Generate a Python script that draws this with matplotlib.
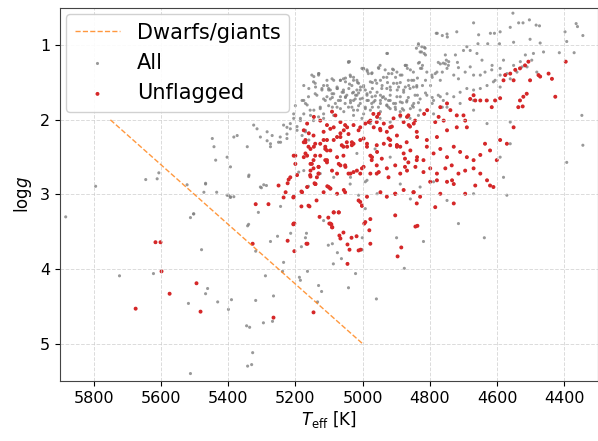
import numpy as np
import matplotlib.pyplot as plt

# Dwarfs/giants dividing line
line_teff = [5750, 5000]
line_logg = [2.0, 5.0]

# stars not in the unflagged sample (grey only)
grey_teff = [
    5723, 5622, 5479, 5467, 5461, 5518, 5431, 5390, 5399, 5342, 5318, 5345, 5336, 5318, 5327,
    5342, 5330, 5512, 5289, 5295, 5265, 5268, 5274, 5253, 5235, 5214, 5188, 5238,
    5167, 5170, 5182, 5001, 5102, 5090, 5075, 5087, 5063, 5021, 5042, 5164, 5185, 5131, 5122,
    5134, 4959, 4899, 4876, 4819, 4715, 4638, 5001,
    5467, 5434, 5399, 5393, 5503, 5512, 5339, 5301, 5286, 5310, 5339, 5244, 5161,
    5883, 5794, 5645, 5611, 5606, 5522, 5472, 5403, 5393, 5502, 5383, 5304, 5294,
    5447, 5442, 5383, 5373, 5403, 5437, 5343, 5324, 5314, 5304, 5284, 5284, 5274, 5244, 5225,
    5215, 5393, 5338, 5467,
    5131, 5146, 5121, 5106, 5141, 5170, 5175, 5185, 5205, 5225, 5215, 5235, 5195, 5170, 5180,
    5160, 5225, 5245, 5269, 5274, 5250,
    5090, 5072, 5051, 5036, 5021, 5000, 4983, 4962, 4941, 4923, 4902, 4882, 4864, 4837, 4813,
    4793, 4775, 4760, 5090, 5066, 5042, 5015, 4992, 4971, 4947, 4923, 4902, 4882, 4852, 4834,
    4793, 4763,
    4926, 5042, 4840, 4834, 4816, 4825, 4813, 4778, 4763, 4748, 4831, 4822, 4828, 4775, 4760,
    4751, 4745, 4763, 4784, 4718, 4715, 4998, 4986, 4953, 4911, 4873, 4867, 4849,
    5066, 5051, 5027, 5015, 5039, 5006, 4983, 4971, 4947, 4938, 4926, 4923, 4902, 4888, 4864,
    4837, 4813, 4793, 4798, 4822, 4849, 4873, 4897, 4917, 4971, 4992, 5012, 5030, 5057, 5075,
    5096, 5105,
    4553, 4536, 4523, 4504, 4484, 4670, 4781, 4749, 4720, 4655, 4620, 4608, 4591, 4561, 4502,
    4474, 4365, 4361, 4345, 4398, 4393, 4472, 4415, 4371, 4551, 4593, 4628, 4657,
    4834, 4824, 4814, 4829, 4817, 4928,
    4754, 4744, 4754, 4769, 4724, 4700, 4690, 4680,
    4660, 4645, 4615, 4591, 4581, 4551, 4531, 4516, 4497, 4492, 4462, 5039,
    5002, 4987, 4972, 4952, 4933, 4913, 4898, 4888, 4873, 4858,
    4834, 4824, 4809, 4794, 4779, 4769, 4749, 4729, 4715, 4695, 4680, 4670, 4650, 4636, 4616,
    4606, 4591, 4571, 4561, 4541, 4526, 4511, 4482,
    5145, 5130, 5106, 5091, 5066, 5051, 5036, 5027, 5012, 4997, 4977, 4962, 4942, 4928, 4908,
    4893, 4878, 4863, 4848, 4839,
    5175, 5160, 5140, 5121, 5101, 5086, 5076, 5061, 5041, 5027, 5017, 5007, 4987, 4972, 4957,
    4947, 4932, 4918, 4898,
    5180, 5165, 5145, 5126, 5111, 5096, 5081, 5066, 5051, 5036, 5022, 5007, 4987, 4967, 4947,
    4928, 4908, 4888, 4868, 4848, 4829, 4809, 4789, 4769, 4749, 4729, 4710, 4690, 4670, 4650,
    4630, 4611, 4591,
    5155, 5131, 5116, 5086, 5056, 5027, 4997, 4977, 4947, 4918, 4888, 4858, 4829, 4789, 4749,
    4710, 4670, 4630,
    4670, 4630, 4561, 4591, 4581, 4571, 4561, 4348, 4345, 4393, 4829, 4789, 4749, 4670, 4888,
    4957, 4987, 5036, 5126, 4858,
    # dense band, second pass
    5042, 5151, 5131, 5086, 5057, 5037, 5017, 4997, 4973, 4948, 4928, 4908, 4883, 4869, 4854,
    5141, 5116, 5101, 5076, 5057, 5032, 5017, 4997, 4977, 4958, 4943, 4918, 4898, 4878, 4859,
    4839, 5175, 5200, 5161, 5136, 5116, 5091, 5066, 5047, 5027, 5007, 4987, 4963, 4938, 4918,
    4888, 4869, 4844, 5205, 5185, 5156, 5126, 5101, 5076, 5052, 5032, 5012, 4992, 4973, 4953,
    4928, 4903, 4878, 4849, 5195, 5170, 5146, 5116, 5027, 5002, 4977, 4948, 4918, 4888, 4859,
    4834,
    5190, 5165, 5037, 4992, 5086, 5017, 5175, 4963, 4888, 4918, 5012, 4992, 5116,
]
grey_logg = [
    4.09, 4.06, 3.74, 4.33, 4.26, 4.46, 4.44, 4.41, 4.54, 3.42, 3.76, 4.76, 4.78, 4.42, 5.12,
    5.30, 5.28, 5.40, 4.09, 4.72, 4.36, 4.70, 3.63, 3.56, 3.91, 3.52, 4.11, 4.03,
    3.52, 3.58, 3.70, 3.58, 3.68, 3.66, 3.78, 3.93, 3.86, 4.06, 4.25, 4.03, 4.15, 4.22, 4.30,
    4.44, 4.40, 3.58, 3.99, 3.63, 3.39, 3.58, 3.74,
    2.85, 2.97, 3.01, 3.04, 3.26, 3.31, 2.76, 2.91, 2.88, 3.24, 3.40, 3.16, 2.89,
    3.30, 2.89, 2.80, 2.79, 2.71, 2.87, 2.97, 3.01, 3.03, 3.26, 3.03, 2.90, 2.87,
    2.25, 2.36, 2.23, 2.21, 2.50, 2.54, 2.36, 2.07, 2.12, 2.23, 2.16, 2.28, 2.36, 2.30, 2.19,
    2.12, 2.63, 2.74, 2.86,
    1.40, 1.49, 1.60, 1.69, 1.65, 1.78, 1.92, 2.01, 1.98, 2.10, 2.05, 2.07, 2.14, 2.14, 2.21,
    2.27, 2.25, 2.23, 2.21, 2.32, 2.30,
    1.70, 1.74, 1.70, 1.77, 1.67, 1.71, 1.74, 1.68, 1.70, 1.74, 1.78, 1.77, 1.70, 1.67, 1.64,
    1.70, 1.67, 1.74, 1.83, 1.85, 1.83, 1.87, 1.85, 1.83, 1.78, 1.83, 1.86, 1.85, 1.81, 1.77,
    1.78, 1.83,
    1.11, 1.23, 1.04, 1.00, 1.03, 1.09, 1.13, 0.84, 0.87, 0.89, 1.23, 1.27, 1.31, 1.23, 1.24,
    1.20, 1.27, 1.36, 1.38, 1.23, 1.30, 1.32, 1.35, 1.30, 1.32, 1.27, 1.31, 1.36,
    1.47, 1.44, 1.43, 1.50, 1.52, 1.56, 1.38, 1.50, 1.47, 1.43, 1.50, 1.38, 1.43, 1.50, 1.47,
    1.44, 1.47, 1.43, 1.54, 1.54, 1.56, 1.56, 1.60, 1.60, 1.58, 1.60, 1.64, 1.64, 1.63, 1.58,
    1.60, 1.54,
    0.57, 0.70, 0.70, 0.66, 0.73, 0.70, 0.84, 0.85, 0.82, 0.86, 0.84, 0.84, 0.82, 0.76, 0.92,
    0.74, 0.71, 0.75, 0.87, 0.82, 0.95, 0.97, 1.10, 1.10, 0.96, 0.98, 0.98, 0.98,
    0.98, 1.02, 1.04, 1.09, 1.11, 1.11,
    1.13, 1.22, 1.25, 1.25, 1.13, 1.07, 1.02, 1.07,
    1.11, 1.20, 1.27, 1.31, 1.20, 1.27, 1.22, 1.13, 1.20, 1.11, 1.09, 1.22,
    1.31, 1.33, 1.37, 1.31, 1.33, 1.38, 1.36, 1.40, 1.27, 1.33,
    1.24, 1.31, 1.36, 1.40, 1.36, 1.47, 1.31, 1.40, 1.45, 1.36, 1.29, 1.40, 1.40, 1.36, 1.33,
    1.47, 1.40, 1.38, 1.45, 1.36, 1.29, 1.29, 1.36,
    1.42, 1.38, 1.47, 1.45, 1.47, 1.49, 1.42, 1.47, 1.51, 1.54, 1.49, 1.47, 1.54, 1.58, 1.51,
    1.56, 1.60, 1.54, 1.47, 1.56,
    1.54, 1.58, 1.56, 1.58, 1.60, 1.65, 1.58, 1.63, 1.58, 1.63, 1.67, 1.60, 1.65, 1.69, 1.63,
    1.67, 1.72, 1.67, 1.69,
    1.74, 1.80, 1.87, 1.83, 1.74, 1.72, 1.78, 1.74, 1.69, 1.74, 1.72, 1.78, 1.74, 1.76, 1.74,
    1.80, 1.78, 1.76, 1.74, 1.78, 1.72, 1.67, 1.74, 1.69, 1.65, 1.69, 1.63, 1.58, 1.60, 1.58,
    1.54, 1.49, 1.56,
    1.94, 1.96, 1.92, 1.94, 1.89, 1.87, 1.92, 1.87, 1.89, 1.85, 1.89, 1.85, 1.87, 1.92, 1.83,
    1.78, 1.74, 1.74,
    1.87, 2.05, 2.03, 2.50, 2.77, 3.01, 2.32, 1.94, 2.34, 2.57, 2.90, 2.83, 3.08, 2.99, 2.72,
    2.99, 2.81, 2.77, 2.72, 3.06,
    # dense band, second pass
    1.22, 1.40, 1.38, 1.47, 1.45, 1.40, 1.47, 1.31, 1.38, 1.27, 1.43, 1.33, 1.40, 1.27, 1.47,
    1.51, 1.54, 1.58, 1.56, 1.60, 1.54, 1.60, 1.56, 1.63, 1.51, 1.58, 1.56, 1.51, 1.63, 1.58,
    1.54, 1.74, 1.81, 1.69, 1.67, 1.72, 1.65, 1.69, 1.67, 1.74, 1.72, 1.67, 1.74, 1.69, 1.74,
    1.69, 1.76, 1.67, 1.92, 1.98, 1.87, 1.85, 1.81, 1.83, 1.78, 1.83, 1.81, 1.83, 1.78, 1.83,
    1.81, 1.83, 1.87, 1.83, 2.09, 2.16, 2.01, 1.98, 1.94, 1.98, 2.05, 1.98, 2.03, 1.96, 1.98,
    1.94,
    2.70, 2.90, 2.86, 2.83, 2.77, 2.45, 2.68, 2.39, 2.86, 2.50, 3.01, 3.19, 3.35,
]

# unflagged stars (red)
red_teff = [
    4507, 4517, 4532, 4546, 4561, 4576, 4581, 4551, 4502, 4477, 4472, 4447, 4437, 4396, 4427,
    4512, 4522, 4532, 4537, 4524, 4591, 4606, 4616, 4631, 4650, 4665, 4680, 4670,
    4808, 4817, 4769, 4749, 4739, 4774, 4784, 4759, 4720, 4700, 4695, 4690, 4720, 4749, 4779,
    4809, 4838, 4848, 4863, 4868, 4888, 4908, 4918, 4937, 4947, 4967, 4957, 4952, 4977, 4992,
    5007, 5027, 5046, 5056, 5066, 5086, 5081, 5106, 5126, 5145, 5165, 5175,
    5170, 5145, 5126, 5106, 5086, 5066, 5046, 5027, 5007, 4987, 4972, 4957, 4937, 4918, 4898,
    4878, 4858, 4838, 4819, 4809, 4789, 4769, 4749, 4729, 4710, 4690, 4670, 4650, 4636, 4621,
    4601, 4591, 4571, 4551,
    5175, 5155, 5131, 5111, 5091, 5071, 5051, 5036, 5017, 4997, 4977, 4952, 4928, 4903, 4888,
    4868, 4843, 4819, 4799, 4779, 4754, 4735, 4715, 4695, 4670, 4650, 4630, 4621, 4611, 4734,
    4729, 4749, 4779, 4799,
    5165, 5140, 5116, 5096, 5076, 5056, 5012, 5002, 5086, 5071, 4987, 4947, 4928, 4903, 4878,
    4848, 4829, 4784, 4769, 4729, 4695, 4665,
    5616, 5601, 5598, 5675, 5574, 5494, 5482, 5327, 5265, 5223, 5206, 5203,
    4843, 4837, 4885, 4896, 5146, 5164, 4995, 4980, 5033, 5018, 5093, 5090, 5069, 5066, 5057,
    5045, 5039, 5012, 5006, 4977, 5045,
    5318, 5280, 5250, 5235, 5223, 5220, 5229, 5206, 5203, 5182, 5182, 5158, 5167, 5155, 5143,
    5137, 5131, 5128, 5105, 5102, 5099, 5200, 5195,
    5160, 5141, 5155, 5170, 5126, 5146, 5116, 5111, 5131, 5155, 5215, 5106, 5136,
    # dense region, second pass
    5091, 5066, 5052, 5096, 5116, 5146, 5106, 5076, 5042, 5012, 5032, 4997, 4968, 4958, 4982,
    4948, 4928, 4913, 4923, 4898, 4878, 4859, 4864, 4844, 4839, 4987, 4958, 4898, 4869, 5175,
    5161, 5057,
    5170, 5165, 5141, 5111, 5096, 5076, 5062, 5057, 5047, 5032, 5106, 5066, 5052, 5151, 5146,
    5156, 5131, 5076, 5042, 5027, 5007, 5002, 4977, 4973, 4958, 4943, 4918, 4898, 4888, 4874,
    4864, 4874, 4839, 5205, 5200, 5141, 5101, 5052, 5180, 5205, 5161, 5096, 5086, 5071, 5007,
    5002, 4992, 4977, 5096, 5091, 5205, 4903, 4849, 4839, 4903, 4958, 4923,
]
red_logg = [
    1.22, 1.27, 1.31, 1.33, 1.38, 1.40, 1.47, 1.47, 1.47, 1.40, 1.42, 1.38, 1.45, 1.22, 1.69,
    1.65, 1.69, 1.74, 1.83, 1.82, 1.71, 1.74, 1.83, 1.74, 1.74, 1.74, 1.72, 1.67,
    1.87, 1.92, 1.83, 1.78, 1.87, 1.96, 2.03, 2.01, 1.94, 1.94, 2.01, 2.10, 2.10, 2.14, 2.23,
    2.27, 2.23, 2.05, 2.07, 1.96, 1.94, 1.98, 2.10, 2.05, 2.14, 2.10, 1.96, 1.92, 2.01, 2.05,
    2.10, 2.07, 2.10, 2.14, 2.18, 2.10, 1.94, 2.07, 2.01, 1.96, 2.05, 2.14,
    2.27, 2.36, 2.32, 2.41, 2.27, 2.23, 2.36, 2.32, 2.27, 2.36, 2.50, 2.43, 2.32, 2.27, 2.36,
    2.45, 2.41, 2.50, 2.54, 2.36, 2.45, 2.39, 2.50, 2.36, 2.43, 2.50, 2.54, 2.47, 2.32, 2.41,
    2.54, 2.27, 2.32, 2.10,
    2.50, 2.59, 2.63, 2.54, 2.68, 2.59, 2.63, 2.72, 2.68, 2.63, 2.72, 2.70, 2.65, 2.61, 2.72,
    2.68, 2.63, 2.70, 2.65, 2.72, 2.65, 2.61, 2.72, 2.68, 2.65, 2.72, 2.81, 2.88, 2.90, 2.81,
    2.86, 2.83, 2.81, 2.83,
    2.90, 2.86, 2.97, 2.92, 2.99, 2.94, 3.08, 3.15, 3.24, 3.24, 3.03, 2.97, 3.03, 2.99, 2.94,
    2.97, 3.03, 3.17, 2.99, 3.12, 2.99, 2.88,
    3.64, 3.64, 4.03, 4.53, 4.33, 4.19, 4.57, 3.66, 4.65, 3.62, 3.40, 3.76,
    3.43, 3.42, 3.71, 3.83, 4.58, 3.66, 3.39, 3.48, 3.58, 3.56, 3.40, 3.44, 3.55, 3.59, 3.51,
    3.67, 3.74, 3.75, 3.74, 3.66, 3.93,
    3.13, 3.13, 2.88, 3.04, 2.85, 2.80, 2.97, 3.04, 3.39, 2.96, 3.16, 3.16, 3.66, 2.76, 2.85,
    3.08, 2.72, 3.30, 2.89, 3.31, 3.39, 2.48, 2.74,
    2.18, 2.32, 2.39, 2.45, 2.48, 2.54, 2.27, 2.39, 2.63, 2.68, 2.77, 2.54, 2.77,
    # dense region, second pass
    1.89, 2.03, 2.07, 2.12, 2.16, 2.21, 2.27, 2.23, 2.19, 2.14, 2.30, 2.25, 1.92, 2.03, 2.03,
    2.12, 2.16, 2.09, 2.25, 2.21, 2.03, 2.09, 1.94, 2.01, 2.16, 2.32, 2.34, 2.34, 2.30, 2.30,
    2.36, 2.36,
    2.30, 2.48, 2.48, 2.36, 2.41, 2.50, 2.34, 2.48, 2.30, 2.34, 2.57, 2.61, 2.61, 2.59, 2.65,
    2.74, 2.72, 2.72, 2.72, 2.70, 2.72, 2.65, 2.48, 2.54, 2.61, 2.52, 2.34, 2.34, 2.36, 2.52,
    2.57, 2.63, 2.54, 2.48, 2.59, 2.86, 2.90, 2.97, 2.97, 3.03, 3.15, 2.92, 3.24, 3.24, 3.10,
    3.15, 3.37, 3.33, 3.39, 3.44, 3.39, 2.99, 2.97, 3.12, 3.28, 2.72, 2.77,
]

all_teff = np.concatenate([grey_teff, red_teff])
all_logg = np.concatenate([grey_logg, red_logg])

fig = plt.figure(figsize=(5.98, 4.41), dpi=100)
ax = fig.add_axes([0.1003, 0.136, 0.8997, 0.846])

ax.plot(line_teff, line_logg, color='tab:orange', ls='--', lw=1, alpha=0.8, label='Dwarfs/giants')
ax.scatter(all_teff, all_logg, s=5, color='#808080', alpha=0.8, edgecolors='none', label='All')
ax.scatter(red_teff, red_logg, s=8, color='#d62728', edgecolors='none', label='Unflagged')

ax.set_xlim(5900, 4300)
ax.set_ylim(5.5, 0.5)
ax.set_xticks([5800, 5600, 5400, 5200, 5000, 4800, 4600, 4400])
ax.set_yticks([1, 2, 3, 4, 5])
ax.tick_params(labelsize=11.5)
ax.set_xlabel(r'$T_{\rm eff}$ [K]', fontsize=12, labelpad=2)
ax.set_ylabel(r'log$g$', fontsize=12)
ax.grid(ls='--', color='#cccccc', lw=0.7, alpha=0.7)
for sp in ax.spines.values():
    sp.set_color('#444444')

ax.legend(loc='upper left', fontsize=15, framealpha=0.9, handlelength=2.2,
          borderaxespad=0.3)

fig.savefig('out.png', dpi=100)
